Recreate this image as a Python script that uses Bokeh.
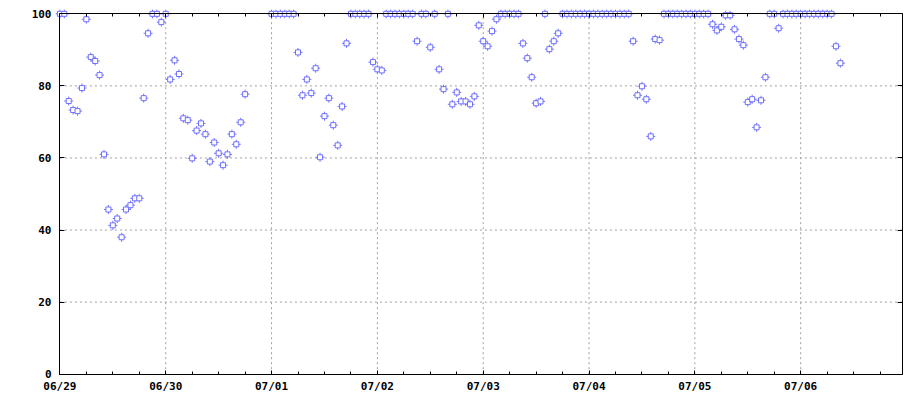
from bokeh.plotting import figure
from bokeh.models import FixedTicker, LinearAxis, ColumnDataSource
from bokeh.embed import file_html
from bokeh.resources import INLINE

# hours since 06/29 00:00
hours_a = [0, 1, 2, 3, 4, 5, 6, 7, 8, 9, 10, 11, 12, 13, 14, 15, 16, 17, 18, 19, 20,
           21, 22, 23, 24, 25, 26, 27, 28, 29, 30, 31, 32, 33, 34, 35, 36, 37, 38, 39,
           40, 41, 42]
values_a = [100, 100, 75.8, 73.3, 73.0, 79.4, 98.5, 88.0, 86.9, 83.0, 61.0, 45.7, 41.3,
            43.2, 38.0, 45.7, 46.9, 48.8, 48.8, 76.6, 94.6, 100, 100, 97.7, 100, 81.8,
            87.1, 83.3, 71.0, 70.5, 59.9, 67.6, 69.6, 66.6, 59.0, 64.3, 61.3, 58.0, 61.0,
            66.6, 63.8, 69.9, 77.7]

hours_b = [48, 49, 50, 51, 52, 53, 54, 55, 56, 57, 58, 59, 60, 61, 62, 63, 64, 65, 66,
           67, 68, 69, 70, 71, 72, 73, 74, 75, 76, 77, 78, 79, 80, 81, 82, 83, 84, 85,
           86, 87, 88, 89, 90, 91, 92, 93, 94, 95, 96, 97, 98, 99, 100, 101, 102, 103,
           104, 105, 106, 107, 108, 109, 110, 111, 112, 113, 114, 115, 116, 117, 118,
           119, 120, 121, 122, 123, 124, 125, 126, 127, 128, 129, 130, 131, 132, 133,
           134, 135, 136, 137, 138, 139, 140, 141, 142, 143, 144, 145, 146, 147, 148,
           149, 150, 151, 152, 153, 154, 155, 156, 157, 158, 159, 160, 161, 162, 163,
           164, 165, 166, 167, 168, 169, 170, 171, 172, 173, 174, 175, 176, 177]
values_b = [100, 100, 100, 100, 100, 100, 89.3, 77.4, 81.8, 78.0, 84.9, 60.2, 71.6, 76.6,
            69.1, 63.5, 74.3, 91.8, 100, 100, 100, 100, 100, 86.6, 84.6, 84.3, 100, 100,
            100, 100, 100, 100, 100, 92.4, 100, 100, 90.7, 100, 84.6, 79.1, 100, 74.9,
            78.2, 75.7, 75.7, 74.9, 77.1, 96.8, 92.4, 91.0, 95.2, 98.5, 100, 100, 100,
            100, 100, 91.8, 87.7, 82.4, 75.2, 75.7, 100, 90.2, 92.4, 94.6,
            100, 100, 100, 100, 100, 100, 100, 100, 100, 100, 100, 100, 100, 100, 100, 100,
            92.4, 77.4, 79.9, 76.3, 66.0, 93.0, 92.7,
            100, 100, 100, 100, 100, 100, 100, 100, 100, 100, 100,
            97.1, 95.4, 96.4, 99.6, 99.6, 95.7, 93.0, 91.3, 75.5, 76.3, 68.5, 76.0, 82.4,
            100, 100, 96.0,
            100, 100, 100, 100, 100, 100, 100, 100, 100, 100, 100, 100,
            91.0, 86.3]

day_ticks = [0, 24, 48, 72, 96, 120, 144, 168]
day_labels = ["06/29", "06/30", "07/01", "07/02", "07/03", "07/04", "07/05", "07/06"]
minor_ticks = [6, 12, 18, 30, 36, 42, 54, 60, 66, 78, 84, 90, 102, 108, 114, 126, 132,
               138, 150, 156, 162, 174, 180, 186]
y_ticks = [0, 20, 40, 60, 80, 100]

x_start, x_end = 0, 191
y_start, y_end = 0, 100
# small padding so that markers on the border are not clipped by the frame
x_pad, y_pad = 1, 1.2

src = ColumnDataSource(dict(x=hours_a + hours_b, y=values_a + values_b))

p = figure(width=912, height=395, output_backend="svg", toolbar_location=None,
           x_range=(x_start - x_pad, x_end + x_pad), y_range=(y_start - y_pad, y_end + y_pad),
           min_border_left=55, min_border_right=6, min_border_top=9,
           min_border_bottom=17, x_axis_location=None, y_axis_location=None)
p.background_fill_color = "white"
p.border_fill_color = "white"
p.outline_line_color = None
p.xgrid.visible = False
p.ygrid.visible = False

FONT = "DejaVu Sans Mono"

xt = FixedTicker(ticks=day_ticks, minor_ticks=minor_ticks)
yt = FixedTicker(ticks=y_ticks, minor_ticks=[])

# gridlines (dotted), drawn at the inner tick positions
gx = day_ticks[1:]
p.segment(x0=gx, y0=[y_start] * len(gx), x1=gx, y1=[y_end] * len(gx),
          line_color="#a0a0a0", line_dash="2 3", line_width=1)
gy = y_ticks[1:-1]
p.segment(x0=[x_start] * len(gy), y0=gy, x1=[x_end] * len(gy), y1=gy,
          line_color="#a0a0a0", line_dash="2 3", line_width=1)


def frame_axis(ticker, loc, bounds, tin, minor_in, side):
    """Axis line + inward ticks drawn on the data box (no labels)."""
    ax = LinearAxis(ticker=ticker, fixed_location=loc, bounds=bounds)
    ax.axis_line_color = "black"
    ax.major_tick_line_color = "black"
    ax.minor_tick_line_color = "black"
    ax.major_tick_out = 0
    ax.minor_tick_out = 0
    ax.major_tick_in = tin
    ax.minor_tick_in = minor_in
    ax.major_label_text_color = None
    ax.major_label_text_font_size = "1px"
    ax.major_label_standoff = 0
    ax.major_label_overrides = {t: "" for t in ticker.ticks}
    p.add_layout(ax, side)


frame_axis(xt, y_start, (x_start, x_end), 4, 3, "below")
frame_axis(xt, y_end, (x_start, x_end), 4, 3, "above")
frame_axis(yt, x_start, (y_start, y_end), 5, 0, "left")
frame_axis(yt, x_end, (y_start, y_end), 5, 0, "right")


def label_axis(ticker, side, standoff, overrides=None):
    """Tick labels only, in the side panel."""
    ax = LinearAxis(ticker=ticker)
    ax.axis_line_color = None
    ax.major_tick_line_color = None
    ax.minor_tick_line_color = None
    ax.major_tick_in = 0
    ax.major_tick_out = 0
    ax.minor_tick_in = 0
    ax.minor_tick_out = 0
    ax.major_label_text_font = FONT
    ax.major_label_text_font_style = "bold"
    ax.major_label_text_font_size = "11px"
    ax.major_label_text_color = "black"
    ax.major_label_standoff = standoff
    if overrides:
        ax.major_label_overrides = overrides
    p.add_layout(ax, side)


label_axis(xt, "below", 1, {t: l for t, l in zip(day_ticks, day_labels)})
label_axis(yt, "left", 4)

COL = "#7070ff"
p.scatter("x", "y", source=src, marker="cross", size=9, line_color=COL, line_width=1)
p.scatter("x", "y", source=src, marker="square", size=5, line_color=COL, line_width=1,
          fill_color="white")

open("out.html", "w").write(file_html(p, INLINE))
